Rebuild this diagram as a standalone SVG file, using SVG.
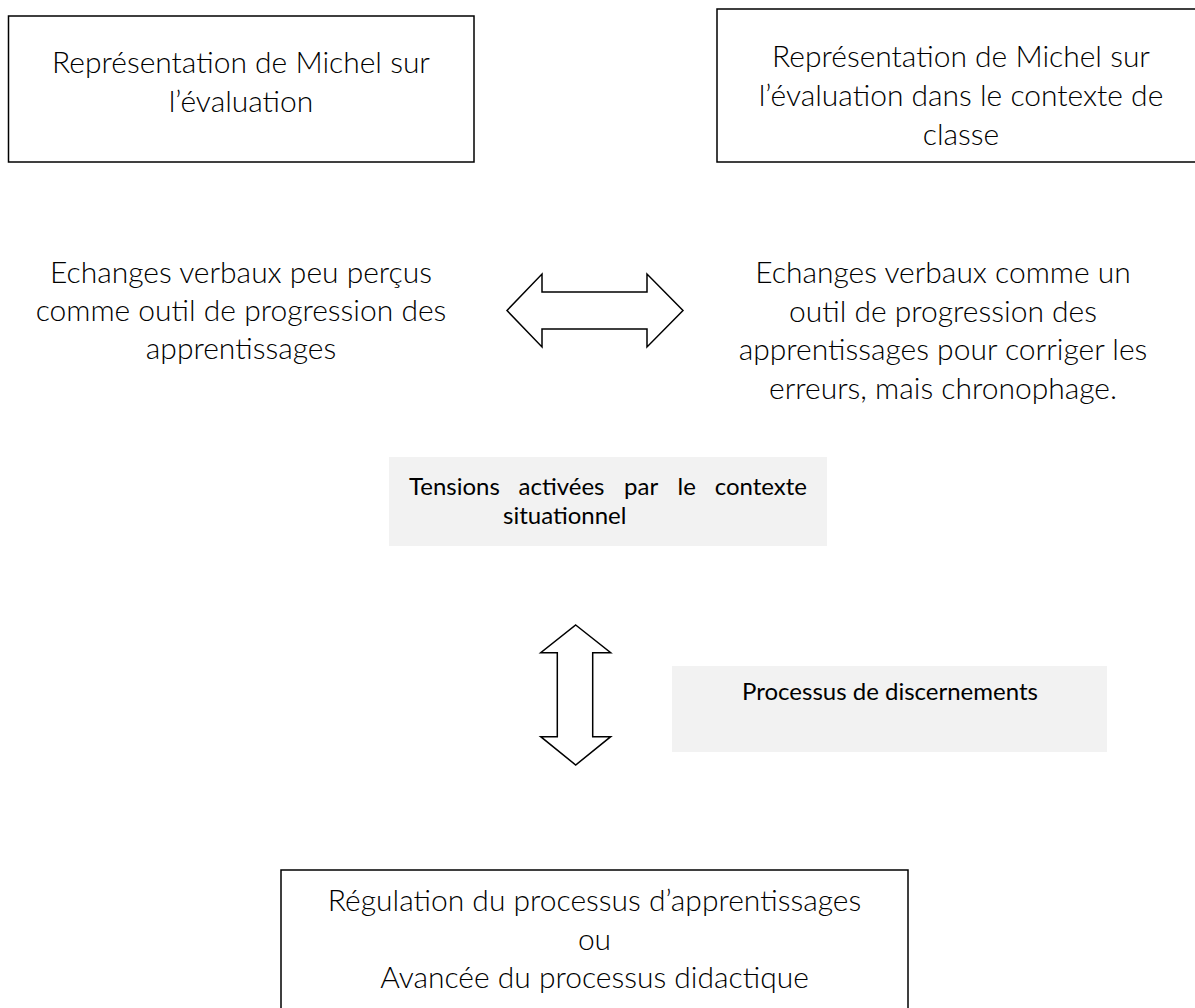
<svg xmlns="http://www.w3.org/2000/svg" width="1195" height="1008" viewBox="0 0 1195 1008">
<style>
.box{fill:#ffffff;stroke:#000000;stroke-width:1.5}
.shade{fill:#f2f2f2;stroke:none}
.arrow{fill:#ffffff;stroke:#000000;stroke-width:1.5;stroke-linejoin:miter}
.light{font-family:Lato,"Liberation Sans",sans-serif;font-weight:300;font-size:30px;fill:#000000;text-anchor:middle}
.reg{font-family:Lato,"Liberation Sans",sans-serif;font-weight:400;font-size:24px;fill:#000000}
</style>
<rect width="1195" height="1008" fill="#ffffff"/>
<g id="node-rep1">
<rect class="box" x="8.5" y="16" width="465.5" height="146"/>
<text class="light"><tspan x="241" y="73">Représentation de Michel sur</tspan><tspan x="241" y="112">l’évaluation</tspan></text>
</g>
<g id="node-rep2">
<rect class="box" x="717" y="9" width="490" height="153"/>
<text class="light"><tspan x="961" y="67">Représentation de Michel sur</tspan><tspan x="961" y="106">l’évaluation dans le contexte de</tspan><tspan x="961" y="145">classe</tspan></text>
</g>
<g id="node-echanges1">
<text class="light"><tspan x="241" y="283">Echanges verbaux peu perçus</tspan><tspan x="241" y="321">comme outil de progression des</tspan><tspan x="241" y="359">apprentissages</tspan></text>
</g>
<g id="node-echanges2">
<text class="light"><tspan x="943" y="283">Echanges verbaux comme un</tspan><tspan x="943" y="321.5">outil de progression des</tspan><tspan x="943" y="360">apprentissages pour corriger les</tspan><tspan x="943" y="398.5">erreurs, mais chronophage.</tspan></text>
</g>
<g id="node-tensions">
<rect class="shade" x="389" y="457" width="438" height="89"/>
<text class="reg"><tspan x="409" y="495">Tensions</tspan><tspan x="518.5" y="495">activées</tspan><tspan x="624" y="495">par</tspan><tspan x="677.5" y="495">le</tspan><tspan x="503" y="524">situationnel</tspan></text>
<text class="reg" text-anchor="end" x="807" y="495">contexte</text>
</g>
<g id="node-processus">
<rect class="shade" x="672" y="666" width="435" height="86"/>
<text class="reg" text-anchor="middle" x="890" y="700">Processus de discernements</text>
</g>
<g id="node-regulation">
<rect class="box" x="281" y="870" width="627" height="150"/>
<text class="light"><tspan x="594.5" y="911">Régulation du processus d’apprentissages</tspan><tspan x="594.5" y="949.5">ou</tspan><tspan x="594.5" y="988">Avancée du processus didactique</tspan></text>
</g>
<g id="connectors">
<polygon class="arrow" points="507,310.5 542,274 542,292 647,292 647,274 683,310.5 647,347 647,329 542,329 542,347"/>
<polygon class="arrow" points="575.7,625 610.7,652.7 592.7,652.7 592.7,736.7 610.7,736.7 575.7,765 540.7,736.7 557.3,736.7 557.3,652.7 540.7,652.7"/>
</g>
</svg>
